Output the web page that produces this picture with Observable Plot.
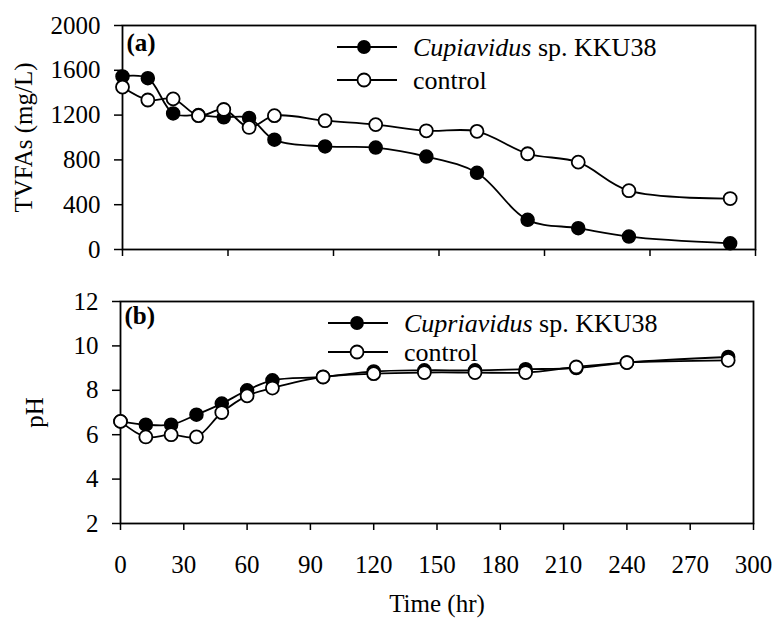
<!DOCTYPE html>
<html>
<head>
<meta charset="utf-8">
<script src="https://cdn.jsdelivr.net/npm/d3@7"></script>
<script src="https://cdn.jsdelivr.net/npm/@observablehq/plot@0.6"></script>
<style>
  body { margin: 0; background: #fff; }
  #wrap { position: relative; width: 776px; height: 623px; background: #fff; overflow: hidden; }
  #p1, #p2, .leg { position: absolute; left: 0; }
  #p1 { top: 0; }
  #p2 { top: 280px; }
</style>
</head>
<body>
<div id="wrap">
  <div id="p1"></div>
  <div id="p2"></div>
</div>
<script>
// ---- data ----
const timeHr = [0, 12, 24, 36, 48, 60, 72, 96, 120, 144, 168, 192, 216, 240, 288];
const tvfaKKU38 = [1545, 1530, 1215, 1200, 1180, 1175, 980, 920, 910, 830, 685, 265, 190, 115, 55];
const tvfaControl = [1450, 1335, 1345, 1195, 1250, 1090, 1195, 1150, 1115, 1060, 1055, 855, 780, 525, 455];
const phKKU38 = [6.6, 6.45, 6.45, 6.9, 7.4, 8.0, 8.45, 8.6, 8.85, 8.9, 8.9, 8.95, 9.0, 9.25, 9.5];
const phControl = [6.6, 5.9, 6.0, 5.9, 7.0, 7.75, 8.1, 8.6, 8.75, 8.8, 8.8, 8.8, 9.05, 9.25, 9.35];
const tvfaTicks = [0, 400, 800, 1200, 1600, 2000];
const phTicks = [2, 4, 6, 8, 10, 12];
const topXTicks = [0, 50, 100, 150, 200, 250, 300];
const bottomXTicks = [0, 30, 60, 90, 120, 150, 180, 210, 240, 270, 300];
const legendTop = ["Cupiavidus", " sp. KKU38", "control"];
const legendBottom = ["Cupriavidus", " sp. KKU38", "control"];

const rows = timeHr.map((t, i) => ({
  t, tvK: tvfaKKU38[i], tvC: tvfaControl[i], phK: phKKU38[i], phC: phControl[i]
}));

const FONT = '"Liberation Serif", "Times New Roman", serif';
const FS = 25;
const fmt = d3.format("d");

function seriesMarks(yK, yC) {
  return [
    Plot.line(rows, {x: "t", y: yK, curve: "catmull-rom", stroke: "#000", strokeWidth: 1.8}),
    Plot.line(rows, {x: "t", y: yC, curve: "catmull-rom", stroke: "#000", strokeWidth: 1.8}),
    Plot.dot(rows, {x: "t", y: yK, r: 6.5, fill: "#000", stroke: "#000", strokeWidth: 1.5}),
    Plot.dot(rows, {x: "t", y: yC, r: 6.5, fill: "#fff", stroke: "#000", strokeWidth: 1.8})
  ];
}

const p1 = Plot.plot({
  width: 776, height: 270,
  marginLeft: 122, marginRight: 21, marginTop: 25, marginBottom: 21,
  style: {fontFamily: FONT, fontSize: FS + "px", color: "#000", background: "transparent"},
  x: {domain: [0, 300]},
  y: {domain: [0, 2000]},
  marks: [
    Plot.axisX({ticks: topXTicks, tickFormat: () => "", tickSize: 7, label: null, strokeWidth: 1.5}),
    Plot.axisY({ticks: tvfaTicks, tickFormat: fmt, tickSize: 8, tickPadding: 14, fontSize: FS, strokeWidth: 1.5,
      label: "TVFAs (mg/L)", labelAnchor: "center", labelArrow: "none", labelOffset: 108}),
    Plot.frame({stroke: "#000", strokeWidth: 1.8}),
    ...seriesMarks("tvK", "tvC"),
    Plot.text(["(a)"], {frameAnchor: "top-left", text: d => d, dx: 4, dy: 8, lineAnchor: "top",
      textAnchor: "start", fontWeight: "bold", fontSize: FS})
  ]
});
document.getElementById("p1").appendChild(p1);

const p2 = Plot.plot({
  width: 776, height: 343,
  marginLeft: 120, marginRight: 23, marginTop: 21, marginBottom: 100,
  style: {fontFamily: FONT, fontSize: FS + "px", color: "#000", background: "transparent"},
  x: {domain: [0, 300]},
  y: {domain: [2, 12]},
  marks: [
    Plot.axisX({ticks: bottomXTicks, tickFormat: fmt, tickSize: 7, tickPadding: 25, fontSize: FS, strokeWidth: 1.5,
      label: "Time (hr)", labelAnchor: "center", labelArrow: "none", labelOffset: 88}),
    Plot.axisY({ticks: phTicks, tickFormat: fmt, tickSize: 8, tickPadding: 14, fontSize: FS, strokeWidth: 1.5,
      label: "pH", labelAnchor: "center", labelArrow: "none", labelOffset: 95}),
    Plot.frame({stroke: "#000", strokeWidth: 1.8}),
    ...seriesMarks("phK", "phC"),
    Plot.text(["(b)"], {frameAnchor: "top-left", text: d => d, dx: 4, dy: 5, lineAnchor: "top",
      textAnchor: "start", fontWeight: "bold", fontSize: FS})
  ]
});
document.getElementById("p2").appendChild(p2);

// ---- legends (drawn as small SVG overlays) ----
function legend(labels, top, x0, x1, cx, tx, y1, y2) {
  const svg = d3.create("svg").attr("class", "leg").attr("width", 776).attr("height", 100)
    .style("position", "absolute").style("left", "0px").style("top", top + "px")
    .style("font-family", FONT).style("font-size", "26px");
  const items = [
    {y: y1, fill: "#000", r: 6},
    {y: y2, fill: "#fff", r: 6.5}
  ];
  items.forEach((it, i) => {
    svg.append("line").attr("x1", x0).attr("x2", x1).attr("y1", it.y).attr("y2", it.y)
      .attr("stroke", "#000").attr("stroke-width", 1.8);
    svg.append("circle").attr("cx", cx).attr("cy", it.y).attr("r", it.r)
      .attr("fill", it.fill).attr("stroke", "#000").attr("stroke-width", 1.8);
    const t = svg.append("text").attr("x", tx).attr("y", it.y).attr("dy", "0.35em").attr("fill", "#000");
    if (i === 0) {
      t.append("tspan").attr("font-style", "italic").text(labels[0]);
      t.append("tspan").text(labels[1]);
    } else {
      t.text(labels[2]);
    }
  });
  document.getElementById("wrap").appendChild(svg.node());
}
legend(legendTop, 0, 337, 397, 364, 413, 47, 80);
legend(legendBottom, 280, 328, 388, 357, 404, 43, 72);
</script>
</body>
</html>
